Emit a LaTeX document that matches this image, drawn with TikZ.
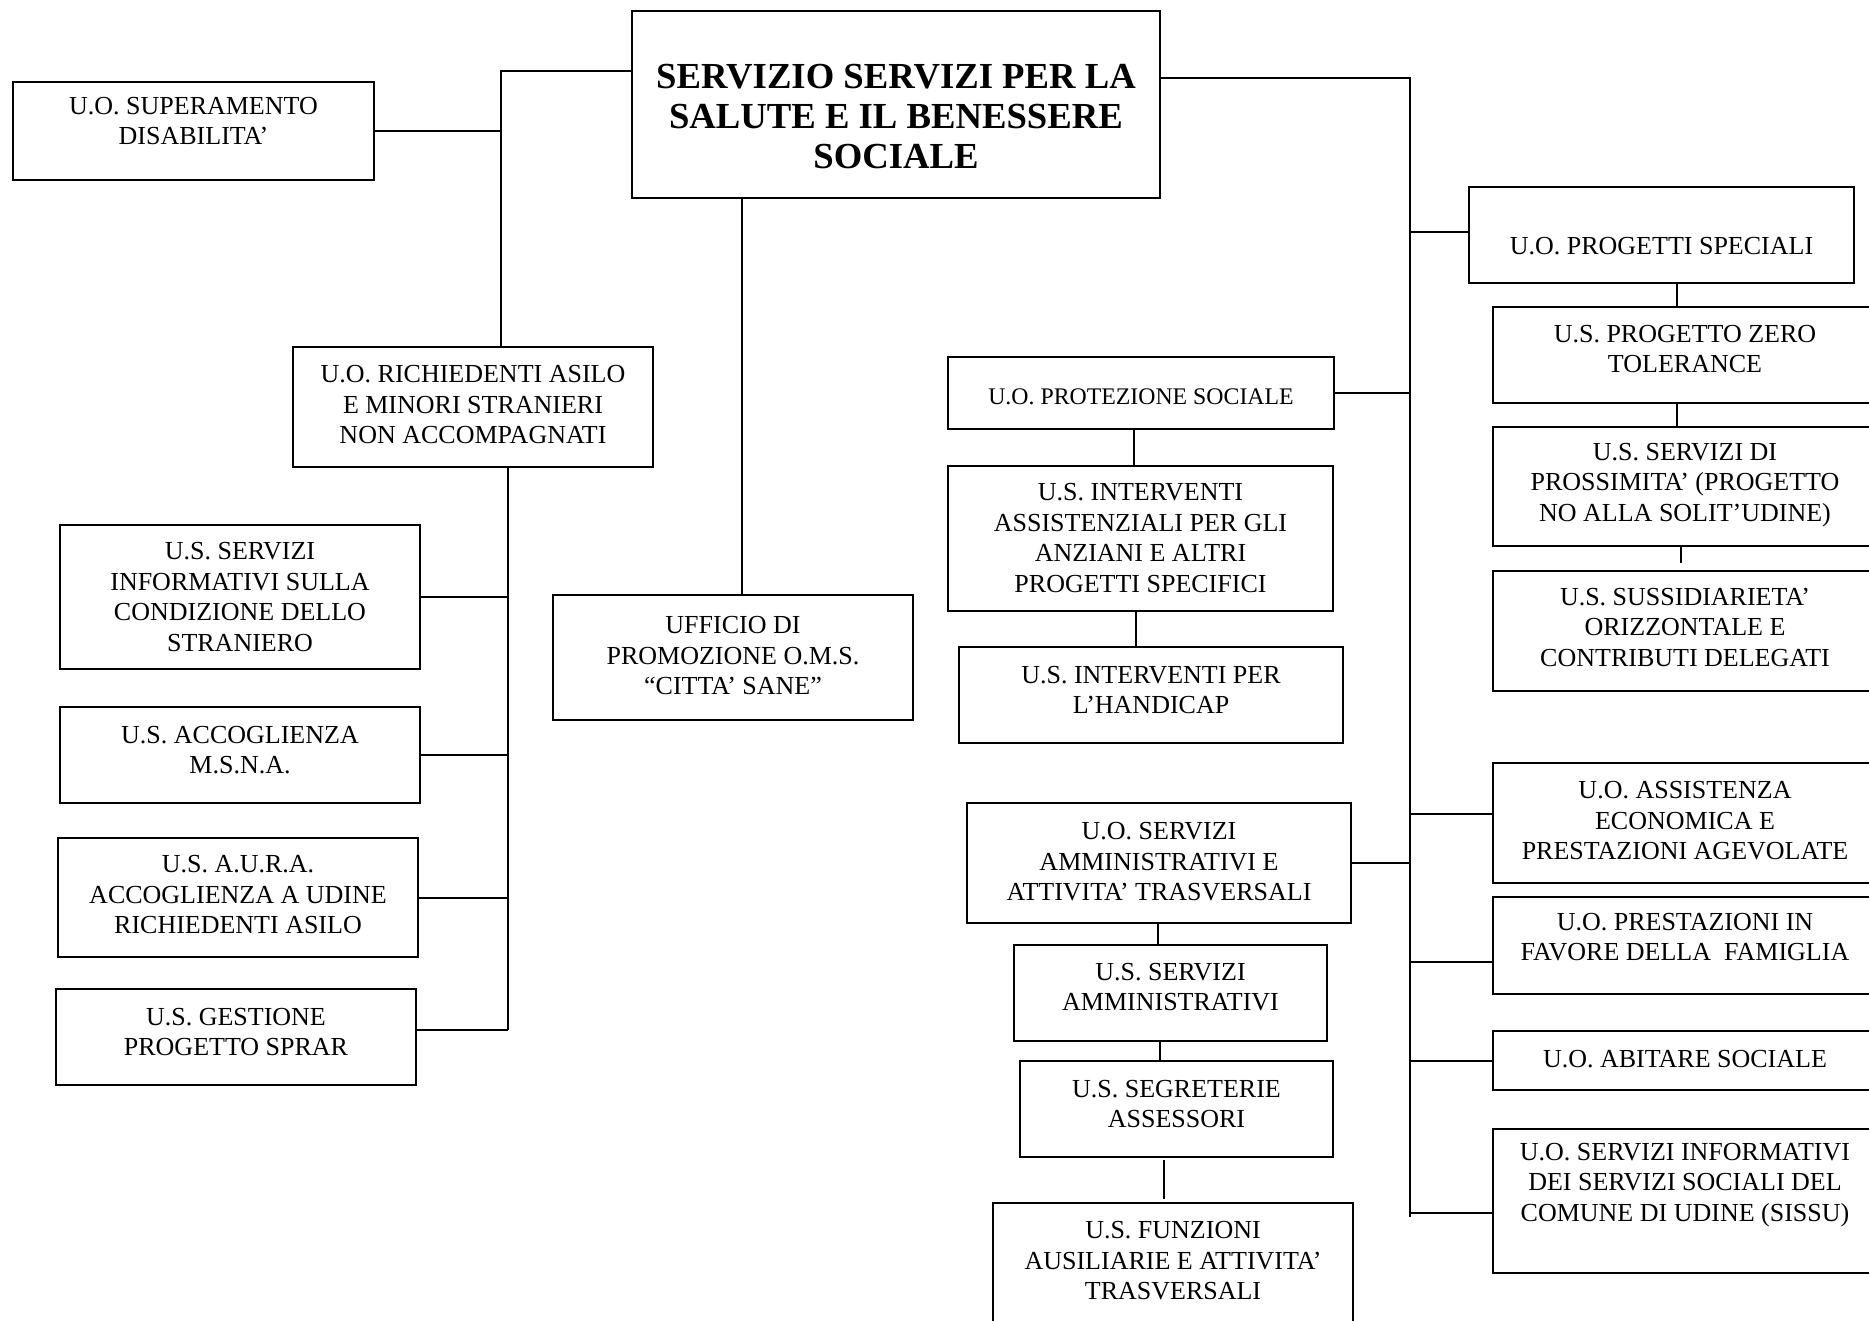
\documentclass[tikz,border=0pt]{standalone}
\usepackage{fontspec}
\setmainfont{Liberation Serif}
\begin{document}
\begin{tikzpicture}[x=0.5pt,y=-0.5pt,
  obox/.style={draw, line width=1pt, inner sep=0pt, outer sep=0pt},
  otext/.style={align=center, inner sep=0pt, font=\fontsize{13}{15.25}\selectfont},
  conn/.style={line width=1pt}]
\newcommand\orgbox[8][]{%
  \node[obox, minimum width={(#5-#3)*0.5pt}, minimum height={(#6-#4)*0.5pt}, anchor=north west] (#2) at (#3,#4) {};
  \node[otext,#1] (#2-t) at ({(#3+#5)/2},#7) {#8};
}
\useasboundingbox (0,0) rectangle (1869,1321);
\clip (0,0) rectangle (1869,1321);

% main box
\node[obox, minimum width={528*0.5pt}, minimum height={187*0.5pt}, anchor=north west] (main) at (632,11) {};
\node[align=center, inner sep=0pt, font=\fontsize{18.35}{20}\selectfont\bfseries] (main-t) at (896,117)
  {SERVIZIO SERVIZI PER LA\\SALUTE E IL BENESSERE\\SOCIALE};

% left branch
\orgbox{sup}{13}{82}{374}{180}{121}{U.O. SUPERAMENTO\\DISABILITA’}
\orgbox{ric}{293}{347}{653}{467}{405}{U.O. RICHIEDENTI ASILO\\E MINORI STRANIERI\\NON ACCOMPAGNATI}
\orgbox{inf}{60}{525}{420}{669}{597}{U.S. SERVIZI\\INFORMATIVI SULLA\\CONDIZIONE DELLO\\STRANIERO}
\orgbox{msna}{60}{707}{420}{803}{750}{U.S. ACCOGLIENZA\\M.S.N.A.}
\orgbox{aura}{58}{838}{418}{957}{895}{U.S. A.U.R.A.\\ACCOGLIENZA A UDINE\\RICHIEDENTI ASILO}
\orgbox{sprar}{56}{989}{416}{1085}{1032}{U.S. GESTIONE\\PROGETTO SPRAR}

% middle
\orgbox{uff}{553}{595}{913}{720}{656}{UFFICIO DI\\PROMOZIONE O.M.S.\\“CITTA’ SANE”}

\orgbox[font=\fontsize{11.9}{14}\selectfont]{prot}{948}{357}{1334}{429}{397}{U.O. PROTEZIONE SOCIALE}
\orgbox{ass}{948}{466}{1333}{611}{538}{U.S. INTERVENTI\\ASSISTENZIALI PER GLI\\ANZIANI E ALTRI\\PROGETTI SPECIFICI}
\orgbox{hand}{959}{647}{1343}{743}{690}{U.S. INTERVENTI PER\\L’HANDICAP}
\orgbox{sa}{967}{803}{1351}{923}{862}{U.O. SERVIZI\\AMMINISTRATIVI E\\ATTIVITA’ TRASVERSALI}
\orgbox{sam}{1014}{945}{1327}{1041}{987}{U.S. SERVIZI\\AMMINISTRATIVI}
\orgbox{seg}{1020}{1061}{1333}{1157}{1104}{U.S. SEGRETERIE\\ASSESSORI}
\orgbox{fun}{993}{1203}{1353}{1340}{1261}{U.S. FUNZIONI\\AUSILIARIE E ATTIVITA’\\TRASVERSALI}

% right
\orgbox{prog}{1469}{187}{1854}{283}{246}{U.O. PROGETTI SPECIALI}
\orgbox{zero}{1493}{307}{1877}{403}{349}{U.S. PROGETTO ZERO\\TOLERANCE}
\orgbox{pros}{1493}{427}{1877}{546}{485}{U.S. SERVIZI DI\\PROSSIMITA’ (PROGETTO\\NO ALLA SOLIT’UDINE)}
\orgbox{suss}{1493}{571}{1877}{691}{627}{U.S. SUSSIDIARIETA’\\ORIZZONTALE E\\CONTRIBUTI DELEGATI}
\orgbox{aec}{1493}{763}{1877}{883}{821}{U.O. ASSISTENZA\\ECONOMICA E\\PRESTAZIONI AGEVOLATE}
\orgbox{fam}{1493}{897}{1877}{994}{937}{U.O. PRESTAZIONI IN\\FAVORE DELLA\ \ FAMIGLIA}
\orgbox{abi}{1493}{1031}{1877}{1090}{1059}{U.O. ABITARE SOCIALE}
\orgbox{sissu}{1493}{1129}{1877}{1273}{1185}{U.O. SERVIZI INFORMATIVI\\DEI SERVIZI SOCIALI DEL\\COMUNE DI UDINE (SISSU)}

% trunk coordinates
\coordinate (LT) at (501,71);
\coordinate (LB) at (508,1030);
\coordinate (MV) at (742,0);
\coordinate (RT) at (1410,78);
\coordinate (RB) at (1410,1217);
\coordinate (caec) at (1410,814);
\coordinate (cfam) at (1410,962);
\coordinate (csis) at (1410,1213);
\coordinate (cprog) at (1410,232);
\coordinate (xp1) at (1677,0);
\coordinate (xp2) at (1681,0);
\coordinate (xa1) at (1134,0);
\coordinate (xa2) at (1136,0);
\coordinate (xs1) at (1158,0);
\coordinate (xs2) at (1160,0);
\coordinate (xs3) at (1164,0);

% left connectors
\draw[conn] (main.west |- LT) -- (LT) -- (LT |- ric.north);
\draw[conn] (sup.east) -- (sup.east -| LT);
\draw[conn] (ric.south -| LB) -- (LB);
\draw[conn] (inf.east) -- (inf.east -| LB);
\draw[conn] (msna.east) -- (msna.east -| LB);
\draw[conn] (aura.east) -- (aura.east -| LB);
\draw[conn] (sprar.east |- LB) -- (LB);

% middle connector
\draw[conn] (main.south -| MV) -- (uff.north -| MV);

% right trunk
\draw[conn] (main.east |- RT) -- (RT) -- (RB);
\draw[conn] (cprog) -- (prog.west |- cprog);
\draw[conn] (prot.east) -- (prot.east -| RT);
\draw[conn] (sa.east) -- (sa.east -| RT);
\draw[conn] (caec) -- (aec.west |- caec);
\draw[conn] (cfam) -- (fam.west |- cfam);
\draw[conn] (abi.west) -- (abi.west -| RT);
\draw[conn] (csis) -- (sissu.west |- csis);

% sub-chains
\draw[conn] (prog.south -| xp1) -- (zero.north -| xp1);
\draw[conn] (zero.south -| xp1) -- (pros.north -| xp1);
\draw[conn, shorten >=4pt] (pros.south -| xp2) -- (suss.north -| xp2);
\draw[conn] (prot.south -| xa1) -- (ass.north -| xa1);
\draw[conn] (ass.south -| xa2) -- (hand.north -| xa2);
\draw[conn] (sa.south -| xs1) -- (sam.north -| xs1);
\draw[conn] (sam.south -| xs2) -- (seg.north -| xs2);
\draw[conn, shorten <=1.5pt, shorten >=2pt] (seg.south -| xs3) -- (fun.north -| xs3);
\end{tikzpicture}
\end{document}
